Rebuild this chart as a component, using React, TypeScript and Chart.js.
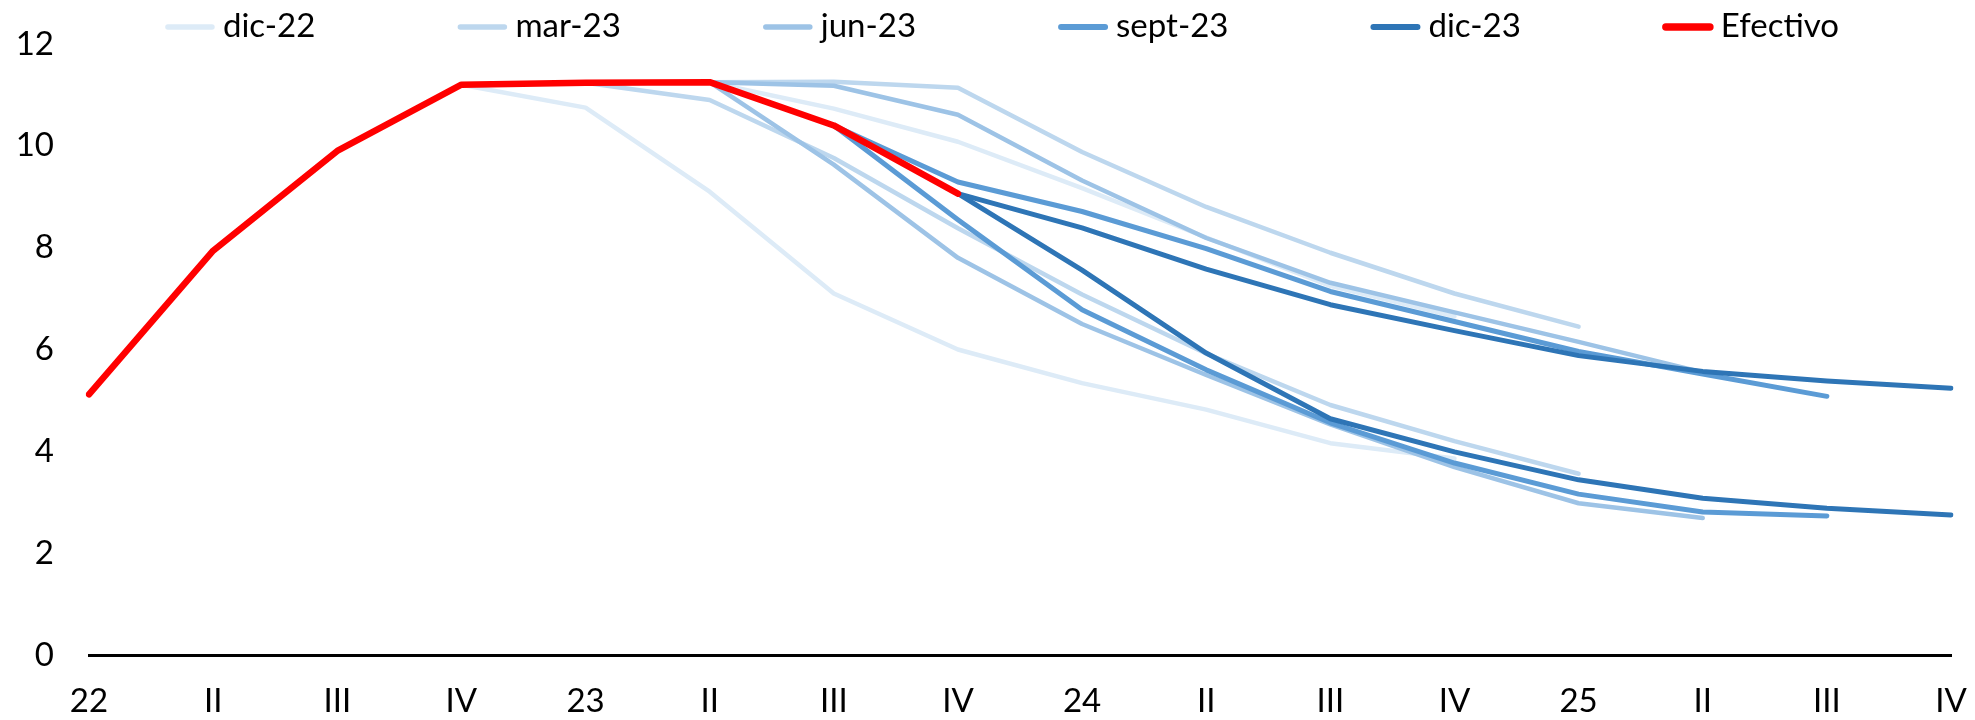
import React, { useEffect, useRef } from 'react';
import { Chart, registerables } from 'chart.js';

Chart.register(...registerables);

const FONT = "Lato, 'Open Sans', 'DejaVu Sans', sans-serif";

const categories = ['22', 'II', 'III', 'IV', '23', 'II', 'III', 'IV', '24', 'II', 'III', 'IV', '25', 'II', 'III', 'IV'];
const yTickStep = 2;
const yMin = 0;
const yMax = 12;

const legendNames = ['dic-22', 'mar-23', 'jun-23', 'sept-23', 'dic-23', 'Efectivo'];
const colors = ['#DDEBF7', '#BDD7EE', '#9DC3E6', '#5B9BD5', '#2E75B6', '#FF0000'];
const lineWidths = [4.5, 4.5, 4.5, 5, 5, 6.5];
const drawOrder = [5, 4, 3, 2, 1, 0];

const efectivo = [5.12, 7.94, 9.9, 11.2, 11.24, 11.25, 10.4, 9.06, null, null, null, null, null, null, null, null];

const dic22Upper = [null, null, null, 11.2, 11.24, 11.25, 10.73, 10.08, 9.17, 8.2, 7.25, 6.65, null, null, null, null];
const dic22Lower = [null, null, null, 11.2, 10.75, 9.1, 7.1, 6.0, 5.34, 4.82, 4.16, 3.86, null, null, null, null];

const mar23Upper = [null, null, null, null, 11.24, 11.25, 11.26, 11.14, 9.88, 8.8, 7.9, 7.1, 6.45, null, null, null];
const mar23Lower = [null, null, null, null, 11.24, 10.9, 9.76, 8.38, 7.08, 5.92, 4.91, 4.2, 3.56, null, null, null];

const jun23Upper = [null, null, null, null, null, 11.25, 11.18, 10.61, 9.32, 8.19, 7.31, 6.73, 6.15, 5.55, null, null];
const jun23Lower = [null, null, null, null, null, 11.25, 9.63, 7.8, 6.5, 5.5, 4.53, 3.69, 2.98, 2.69, null, null];

const sept23Upper = [null, null, null, null, null, null, 10.4, 9.29, 8.71, 7.98, 7.14, 6.55, 5.96, 5.52, 5.08, null];
const sept23Lower = [null, null, null, null, null, null, 10.4, 8.55, 6.78, 5.6, 4.56, 3.77, 3.16, 2.81, 2.73, null];

const dic23Upper = [null, null, null, null, null, null, null, 9.06, 8.39, 7.58, 6.88, 6.37, 5.88, 5.57, 5.38, 5.24];
const dic23Lower = [null, null, null, null, null, null, null, 9.06, 7.56, 5.93, 4.64, 3.99, 3.44, 3.08, 2.88, 2.75];

const primarySeries = [dic22Upper, mar23Upper, jun23Upper, sept23Upper, dic23Upper, efectivo];
const secondarySeries = [dic22Lower, mar23Lower, jun23Lower, sept23Lower, dic23Lower];

const legendPlugin = {
  id: 'customLegend',
  afterDraw(chart: any) {
    const ctx = chart.ctx;
    ctx.save();
    ctx.font = `33px ${FONT}`;
    const lineLen = 50;
    const textGap = 8;
    const itemGap = 142;
    const widths = legendNames.map((n) => ctx.measureText(n).width);
    let total = 0;
    widths.forEach((w, i) => {
      total += lineLen + textGap + w + (i < widths.length - 1 ? itemGap : 0);
    });
    let x = 1002 - total / 2;
    const y = 27;
    legendNames.forEach((name, i) => {
      ctx.beginPath();
      ctx.strokeStyle = colors[i];
      ctx.lineWidth = lineWidths[i] + 1;
      ctx.lineCap = 'round';
      ctx.moveTo(x + 3, y);
      ctx.lineTo(x + lineLen - 3, y);
      ctx.stroke();
      ctx.fillStyle = '#000';
      ctx.textBaseline = 'middle';
      ctx.textAlign = 'left';
      ctx.fillText(name, x + lineLen + textGap, y - 1);
      x += lineLen + textGap + widths[i] + itemGap;
    });
    ctx.restore();
  },
};

export default function App() {
  const ref = useRef<HTMLCanvasElement>(null);

  useEffect(() => {
    if (!ref.current) return;
    const mk = (label: string, data: any[], i: number) => ({
      label,
      data,
      borderColor: colors[i],
      backgroundColor: colors[i],
      borderWidth: lineWidths[i],
      pointRadius: 0,
      pointHoverRadius: 0,
      tension: 0,
      fill: false,
      order: drawOrder[i],
      borderCapStyle: 'round',
      borderJoinStyle: 'round',
      spanGaps: false,
    });
    const datasets: any[] = [];
    primarySeries.forEach((d, i) => datasets.push(mk(legendNames[i], d, i)));
    secondarySeries.forEach((d, i) => datasets.push(mk(legendNames[i] + ' ', d, i)));

    const tickFont = { family: FONT, size: 33, lineHeight: 1 };

    const chart = new Chart(ref.current, {
      type: 'line',
      data: { labels: categories, datasets },
      options: {
        animation: false,
        responsive: true,
        maintainAspectRatio: false,
        layout: { padding: { top: 44, left: 8, right: 24, bottom: 2 } },
        plugins: {
          legend: { display: false },
          tooltip: { enabled: false },
        },
        scales: {
          x: {
            offset: false,
            grid: { display: false, drawTicks: false },
            border: { display: true, color: '#000', width: 3 },
            ticks: {
              color: '#000',
              font: tickFont,
              padding: 30,
              autoSkip: false,
              maxRotation: 0,
            },
            afterFit: (s: any) => {
              s.height = 63;
              s.paddingLeft = 0;
              s.paddingRight = 0;
            },
          },
          y: {
            min: yMin,
            max: yMax,
            grid: { display: false, drawTicks: false },
            border: { display: false },
            ticks: {
              stepSize: yTickStep,
              color: '#000',
              font: tickFont,
              padding: 35,
            },
            afterFit: (s: any) => {
              s.width = 81;
              s.paddingTop = 0;
              s.paddingBottom = 0;
            },
          },
        },
      } as any,
      plugins: [legendPlugin],
    });
    return () => chart.destroy();
  }, []);

  return (
    <div style={{ position: 'absolute', left: 0, top: 0, width: 1975, height: 720 }}>
      <canvas ref={ref} />
    </div>
  );
}
